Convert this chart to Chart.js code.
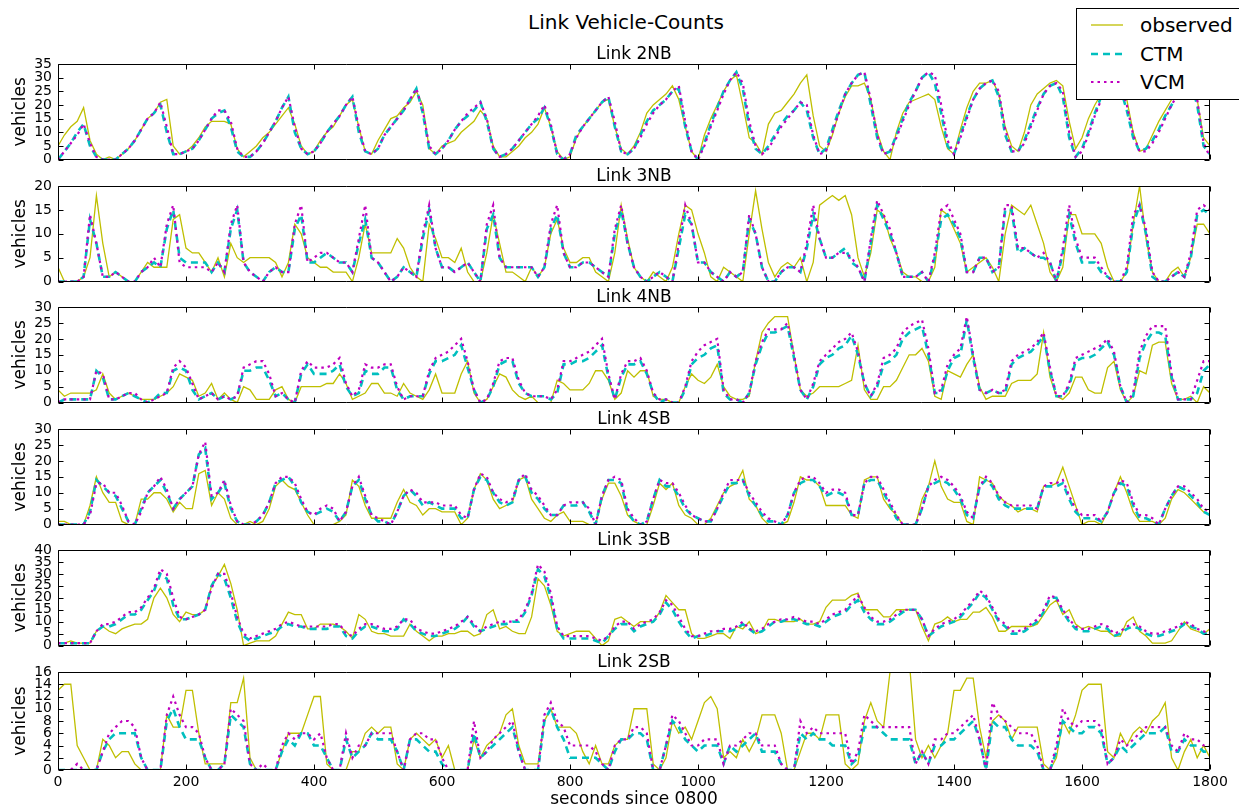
<!DOCTYPE html>
<html>
<head>
<meta charset="utf-8">
<title>Link Vehicle-Counts</title>
<script src="https://cdn.jsdelivr.net/npm/chart.js@4.4.1/dist/chart.umd.min.js"></script>
<style>
  html, body { margin: 0; padding: 0; background: #fff; overflow: hidden; }
  #fig { position: relative; width: 1239px; height: 810px; overflow: hidden; font-family: 'DejaVu Sans', sans-serif; color: #000; }
  #fig canvas { position: absolute; left: 0; }
  #suptitle { position: absolute; left: 0; width: 1252px; top: 10px; text-align: center; font-size: 20px; line-height: 24px; }
  #legend { position: absolute; left: 1076px; top: 8px; width: 180px; height: 92px; border: 1px solid #000; background: #fff; z-index: 5; box-sizing: border-box; }
  .entry { position: absolute; left: 14px; width: 160px; height: 24px; font-size: 20px; line-height: 24px; }
  .entry svg { position: absolute; left: 0; top: 0; }
  .entry span { position: absolute; left: 49px; top: 0; white-space: nowrap; }
</style>
</head>
<body>
<div id="fig">
  <div id="suptitle">Link Vehicle-Counts</div>
  <div id="legend">
    <div class="entry" style="top:4px">
      <svg width="34" height="24"><line x1="0" y1="12" x2="32" y2="12" stroke="#bfbf00" stroke-width="1.3"/></svg>
      <span>observed</span>
    </div>
    <div class="entry" style="top:33px">
      <svg width="34" height="24"><line x1="0" y1="12" x2="32" y2="12" stroke="#00bfbf" stroke-width="2.6" stroke-dasharray="7 5"/></svg>
      <span>CTM</span>
    </div>
    <div class="entry" style="top:61px">
      <svg width="34" height="24"><line x1="0" y1="12" x2="32" y2="12" stroke="#bf00bf" stroke-width="2.2" stroke-dasharray="2.5 4"/></svg>
      <span>VCM</span>
    </div>
  </div>
</div>
<script>
// samples every 10 s, 0..1800
const STEP = 10;

const linkNames = ['2NB', '3NB', '4NB', '4SB', '3SB', '2SB'];
const yMax = [35, 20, 30, 30, 40, 16];
const yStep = [5, 5, 5, 5, 5, 2];
const xMax = 1800;
const xStep = 200;

// Link 2NB
const obs2NB = [5,9,12,14,19,7,2,0,1,0, 2,4,7,11,15,17,21,22,5,2,
  3,5,8,12,14,14,14,13,4,1, 3,5,8,10,13,16,19,13,5,2,
  3,7,10,12,16,20,22,12,3,2, 7,11,15,16,19,21,25,20,4,2,
  5,6,7,10,12,14,18,15,5,1, 1,3,5,8,10,13,19,12,3,0,
  1,8,12,15,18,21,22,12,4,2, 5,10,17,20,22,24,27,22,12,3,
  0,9,15,20,25,29,31,20,8,6, 2,13,17,18,21,24,28,31,16,5,
  3,9,17,23,27,27,28,22,10,3, 0,10,17,21,22,23,24,22,12,4,
  2,11,19,25,28,28,29,24,12,5, 3,10,20,24,26,28,29,27,14,4,
  8,15,20,24,27,29,27,22,10,3, 4,9,14,18,22,25,28,26,22,8,
  5];
const ctm2NB = [0,3,6,10,13,5,1,0,0,0, 2,4,7,11,15,17,20,10,2,2,
  3,4,7,11,15,17,18,12,3,1, 1,3,6,10,14,19,23,10,4,2,
  3,6,10,13,16,20,23,10,3,2, 4,9,12,15,18,22,26,17,4,2,
  4,7,11,14,16,18,21,14,4,1, 2,4,7,10,13,15,19,12,2,0,
  2,9,12,15,18,21,23,12,3,2, 4,9,14,18,20,22,25,26,12,3,
  0,6,13,19,25,29,32,26,12,4, 2,5,9,13,16,18,21,18,8,2,
  4,11,18,24,28,31,32,20,8,2, 3,9,15,21,25,30,32,28,17,5,
  2,9,16,22,26,28,29,23,9,3, 3,7,13,19,24,27,28,23,8,1,
  4,10,17,23,27,29,26,18,8,3, 4,7,11,16,20,24,27,28,20,5,
  2];
const vcm2NB = [0,3,6,9,13,6,1,0,0,0, 2,4,7,11,15,17,21,12,2,2,
  3,4,7,11,15,18,18,14,4,1, 1,3,6,10,14,19,23,12,4,2,
  3,6,10,13,16,20,23,12,3,2, 4,9,12,15,18,22,26,18,5,2,
  4,7,11,14,17,19,21,15,4,1, 2,4,7,10,13,16,20,13,2,0,
  2,8,12,15,18,21,23,14,3,2, 4,8,13,17,20,22,25,27,14,3,
  0,5,12,18,24,29,32,28,14,5, 2,4,8,12,15,18,21,20,9,2,
  3,10,17,24,28,31,32,22,9,2, 3,8,14,20,25,30,32,31,20,7,
  2,8,15,22,26,28,29,25,11,3, 3,6,12,18,24,27,28,25,10,1,
  3,9,16,22,27,29,27,20,9,3, 3,6,10,15,20,24,27,28,22,6,
  1];

// Link 3NB
const obs3NB = [3,0,0,0,1,5,18,8,1,2, 1,0,0,2,4,3,3,3,13,14,
  7,6,6,4,2,5,1,8,5,4, 5,5,5,5,4,1,4,12,10,5,
  4,3,3,2,2,2,0,5,12,6, 6,6,6,9,7,3,1,0,12,9,
  5,5,4,7,2,0,0,6,14,8, 2,2,1,0,3,1,3,10,13,7,
  4,4,5,5,2,1,0,6,16,9, 3,1,0,2,1,0,3,10,16,15,
  10,6,1,0,3,2,1,0,10,19, 11,4,1,3,4,3,5,0,4,16,
  17,18,17,18,14,5,1,6,15,14, 9,6,2,1,1,0,0,3,15,14,
  11,8,2,3,4,5,3,0,10,16, 15,14,16,12,8,2,0,3,14,14,
  10,10,10,8,3,0,0,2,12,20, 9,2,0,0,2,3,1,5,12,12,
  10];
const ctm3NB = [0,0,0,0,1,13,8,1,1,2, 1,0,0,2,3,4,3,11,15,5,
  4,4,4,4,2,4,2,11,15,4, 2,1,0,2,3,2,2,11,14,4,
  4,5,6,5,4,4,2,8,13,5, 4,2,0,1,3,2,1,9,15,7,
  3,3,2,3,4,2,0,11,14,5, 3,3,3,3,3,1,3,11,14,6,
  3,3,4,4,3,2,1,10,15,8, 3,1,0,1,2,1,0,7,14,12,
  4,4,2,1,0,2,1,2,13,10, 3,0,0,2,3,3,2,7,14,9,
  5,5,6,7,4,3,0,8,16,13, 10,6,1,1,1,2,0,5,13,14,
  12,9,2,2,5,5,2,3,15,15, 6,7,6,5,5,4,0,6,14,8,
  4,4,4,2,1,0,0,2,12,16, 10,1,0,0,1,2,1,5,14,15,
  14];
const vcm3NB = [0,0,0,0,1,14,8,1,1,2, 1,0,0,2,3,5,3,12,16,4,
  3,3,3,3,2,4,2,12,16,4, 2,1,0,2,3,2,2,12,16,4,
  5,6,6,5,4,4,2,9,16,5, 4,2,0,1,3,2,1,10,16,7,
  3,3,2,3,4,2,0,12,16,5, 3,3,3,3,3,1,3,12,16,6,
  3,3,4,4,3,2,1,11,16,8, 3,1,0,1,2,1,0,8,16,12,
  4,4,2,1,0,2,1,2,14,10, 3,0,0,2,3,3,2,8,16,9,
  5,5,6,6,5,3,0,9,17,14, 11,6,1,1,1,2,0,6,15,16,
  13,10,2,2,5,5,2,3,16,16, 7,7,6,5,6,4,0,7,16,9,
  5,5,5,3,1,0,0,3,14,16, 11,2,0,0,1,2,1,6,15,16,
  15];

// Link 4NB
const obs4NB = [4,2,3,3,3,3,4,9,3,1, 2,3,2,1,1,1,2,3,5,9,
  8,7,2,3,6,1,3,1,0,5, 4,1,1,1,4,5,1,0,5,5,
  5,5,6,6,9,6,1,2,3,6, 6,3,3,2,6,3,2,1,4,9,
  3,3,3,9,13,3,0,1,5,9, 8,4,2,1,2,0,0,0,7,6,
  4,4,4,6,10,10,7,1,3,10, 8,10,10,2,1,1,0,0,5,9,
  7,6,8,12,5,2,1,1,2,13, 22,25,27,27,27,15,4,2,3,5,
  5,5,5,6,7,18,4,1,1,5, 5,7,11,15,15,17,13,2,1,10,
  9,8,12,15,5,1,2,2,2,6, 7,7,7,9,22,8,2,1,3,8,
  8,4,3,3,11,13,4,0,2,10, 9,18,19,19,6,1,1,2,0,5,
  3];
const ctm4NB = [0,1,1,1,1,1,10,8,1,1, 2,3,2,1,0,1,3,3,10,11,
  10,4,1,2,3,1,2,1,2,10, 10,11,11,7,2,3,1,0,9,12,
  9,9,9,10,12,5,2,3,10,9, 9,11,11,4,1,2,2,2,9,13,
  13,14,15,18,11,4,0,1,5,12, 13,13,6,3,2,2,2,1,3,12,
  12,13,13,14,16,18,8,1,8,12, 12,13,9,3,0,1,0,0,4,12,
  14,15,17,18,3,1,1,0,3,12, 18,22,22,23,24,14,4,1,5,12,
  14,15,17,18,21,15,6,2,5,12, 13,15,20,22,23,24,15,3,3,10,
  14,15,26,14,4,3,4,3,3,12, 14,15,16,18,21,10,2,2,5,13,
  14,14,15,17,19,15,5,0,2,14, 19,22,22,21,8,1,1,1,3,10,
  12];
const vcm4NB = [0,1,1,1,1,1,10,9,1,1, 2,3,3,1,0,1,2,3,11,13,
  11,6,1,2,3,1,2,1,2,11, 12,13,13,9,2,3,1,0,10,13,
  11,11,11,12,14,6,2,4,12,11, 11,12,12,5,1,2,2,2,10,14,
  15,16,18,20,13,4,0,1,6,13, 14,14,7,3,2,2,2,1,4,13,
  13,14,15,16,18,20,9,1,9,13, 13,14,10,3,1,1,0,0,5,13,
  16,18,19,20,4,1,1,0,3,13, 19,23,23,23,25,15,4,1,6,13,
  15,17,19,20,22,16,6,2,6,14, 15,17,22,24,25,26,17,3,4,12,
  15,17,27,15,4,3,4,3,4,13, 15,16,17,19,22,11,2,2,6,14,
  15,16,17,18,20,16,5,0,3,16, 21,24,24,24,9,1,1,1,7,13,
  13];

// Link 4SB
const obs4SB = [1,1,0,0,0,6,15,10,7,7, 1,0,0,8,8,10,10,8,4,7,
  5,5,16,17,6,10,8,2,0,0, 1,0,1,5,12,14,12,11,7,3,
  0,0,0,0,1,3,14,12,6,2, 2,2,2,7,11,7,6,3,5,5,
  4,4,4,0,2,11,16,14,8,5, 6,7,14,15,8,5,2,1,3,4,
  1,1,1,0,0,8,13,13,9,3, 1,0,0,6,13,11,13,6,3,2,
  0,0,2,6,10,12,13,17,8,6, 2,0,0,0,1,7,15,14,14,12,
  6,6,6,6,3,2,14,15,15,8, 5,3,0,0,0,8,12,20,12,8,
  7,7,1,0,15,14,13,9,7,6, 4,5,5,4,12,12,13,18,12,6,
  0,1,1,0,4,10,15,10,4,1, 1,1,0,2,8,11,10,8,6,4,
  3];
const ctm4SB = [0,0,0,0,0,4,14,12,10,9, 5,1,0,5,10,12,14,10,5,8,
  10,12,22,24,8,10,13,5,1,0, 0,1,3,7,13,14,15,12,7,4,
  3,4,5,4,1,4,12,14,8,3, 1,1,0,4,9,11,9,6,7,6,
  5,5,5,2,2,11,15,14,10,7, 6,7,14,15,10,8,5,3,3,6,
  6,6,7,4,0,9,14,14,13,4, 1,0,1,8,14,12,12,9,5,3,
  2,1,1,5,9,13,13,14,9,6, 3,1,1,0,3,10,13,14,14,12,
  9,10,10,9,3,3,13,14,14,10, 6,2,0,0,0,5,12,13,14,13,
  11,8,3,2,12,14,12,8,6,5, 5,5,5,5,12,12,12,13,8,4,
  2,2,2,1,4,10,13,12,6,2, 2,1,0,5,9,12,11,9,7,4,
  3];
const vcm4SB = [0,0,0,0,0,3,13,13,10,10, 6,1,0,4,10,12,15,11,5,8,
  10,12,22,26,9,10,14,6,1,0, 0,1,3,7,13,15,15,13,8,4,
  3,5,6,5,1,4,12,15,9,3, 2,1,0,4,9,11,10,7,7,7,
  6,6,6,3,2,11,16,15,10,8, 7,8,14,16,11,9,6,3,3,6,
  7,7,7,5,0,9,14,15,14,5, 2,0,1,8,14,13,13,10,6,3,
  2,1,1,5,10,14,14,14,10,7, 4,2,1,0,3,10,14,15,15,13,
  10,11,11,10,3,3,13,15,15,11, 7,3,0,0,0,5,12,14,15,14,
  12,9,4,2,12,15,13,9,7,6, 6,6,6,5,12,13,13,14,9,5,
  3,3,3,1,4,10,14,13,7,3, 3,2,0,5,9,12,12,10,8,5,
  4];

// Link 3SB
const obs3SB = [1,1,2,1,1,1,6,8,6,5, 7,8,9,9,11,20,24,20,13,10,
  14,13,13,15,25,29,34,26,15,0, 1,2,2,2,4,9,14,13,13,7,
  7,9,9,9,8,6,3,13,11,6, 5,5,4,4,4,9,6,4,2,4,
  4,5,5,6,6,4,5,13,15,7, 8,6,5,5,12,28,25,17,6,4,
  5,6,6,6,3,0,2,11,12,10, 8,10,10,10,14,21,18,15,15,5,
  3,3,4,5,5,3,8,7,10,5, 6,11,11,10,10,10,11,9,9,10,
  16,19,19,19,21,22,15,15,15,12, 12,15,15,15,15,8,2,9,10,12,
  10,11,11,14,14,16,12,6,6,8, 8,8,8,9,13,17,19,13,15,9,
  7,8,7,6,6,4,4,10,12,6, 4,1,1,1,2,6,10,7,6,5,
  7];
const ctm3SB = [1,1,1,1,1,1,6,8,8,9, 11,13,13,15,19,23,30,28,17,11,
  11,12,13,15,25,30,28,20,10,4, 2,3,4,5,6,8,9,8,8,7,
  7,7,7,8,8,4,3,6,8,8, 7,6,6,7,11,9,6,5,4,4,
  5,6,7,9,12,8,6,7,8,9, 9,10,10,14,21,32,29,20,7,3,
  3,3,3,3,2,1,4,7,9,9, 6,8,9,10,13,18,15,10,6,3,
  4,4,5,6,6,6,7,9,7,5, 6,8,10,10,11,11,10,9,9,8,
  10,12,13,14,17,19,14,11,9,9, 10,12,14,15,15,11,4,6,8,9,
  10,12,15,18,22,20,15,10,8,5, 5,6,8,10,14,20,20,14,10,7,
  6,6,7,8,7,4,5,7,8,7, 5,4,4,5,6,7,9,8,7,5,
  5];
const vcm3SB = [1,1,1,1,1,1,6,9,9,10, 12,14,14,16,20,24,32,30,20,12,
  11,12,13,15,24,30,30,22,12,5, 3,4,5,6,7,9,10,9,8,8,
  8,8,8,9,9,5,4,7,9,9, 8,7,7,8,11,11,7,6,5,5,
  6,7,8,10,12,9,6,8,9,10, 10,10,11,15,22,34,31,22,8,4,
  4,4,4,4,3,2,4,8,10,10, 7,9,10,11,14,19,17,12,7,4,
  4,5,6,6,7,7,8,10,7,6, 7,9,10,11,11,12,11,10,10,9,
  11,13,14,15,18,21,16,12,10,10, 11,13,15,15,15,11,4,7,9,10,
  11,13,16,19,23,21,16,11,9,6, 6,7,9,11,15,21,20,15,11,8,
  7,7,8,9,8,5,6,8,9,8, 6,5,5,6,7,8,10,9,7,6,
  5];

// Link 2SB
const obs2SB = [13,14,14,4,2,0,0,5,4,2, 3,3,1,0,0,0,0,9,7,7,
  13,13,6,1,1,1,1,11,11,15, 2,0,0,0,0,3,6,6,6,9,
  12,12,1,0,0,0,3,3,6,7, 6,7,7,1,0,5,6,5,4,5,
  2,4,0,0,0,5,2,4,5,6, 9,10,4,1,1,1,8,10,7,7,
  7,6,3,1,4,1,1,4,5,5, 10,10,10,1,0,2,8,6,7,5,
  8,11,12,10,2,3,2,5,3,5, 9,9,9,6,0,0,3,6,6,5,
  9,9,9,1,0,1,8,11,8,7, 16,18,18,18,5,2,4,2,4,6,
  13,13,15,15,7,2,8,9,8,5, 7,7,7,7,1,0,2,8,6,9,
  13,14,14,14,3,2,6,4,6,7, 6,8,9,11,2,0,3,5,2,4,
  2];
const ctm2SB = [0,0,0,0,0,0,0,3,5,6, 6,6,6,2,0,0,0,8,10,7,
  5,5,5,2,0,0,1,9,8,7, 1,0,0,0,0,3,5,4,6,6,
  4,4,2,0,0,5,2,3,4,6, 5,5,5,3,0,5,5,4,3,3,
  1,0,0,0,0,6,2,3,4,5, 6,7,3,0,0,0,8,10,7,5,
  2,2,2,2,2,1,0,3,5,5, 6,6,5,0,0,4,8,7,5,4,
  3,4,4,4,1,4,3,4,5,6, 3,3,3,1,0,0,6,5,6,5,
  5,4,4,4,1,2,7,7,7,6, 5,5,5,5,1,3,1,4,4,5,
  5,6,7,8,5,0,8,7,7,5, 4,4,4,3,0,0,3,8,7,6,
  6,7,7,6,1,2,4,3,4,5, 6,6,6,7,3,3,5,4,4,3,
  3];
const vcm2SB = [0,0,0,1,0,0,0,3,6,7, 8,8,7,2,0,0,0,9,12,9,
  7,7,6,2,0,0,1,10,9,8, 1,0,1,0,0,4,6,5,6,6,
  5,6,2,0,0,6,2,4,4,6, 6,6,6,3,0,5,6,6,5,5,
  2,0,0,0,0,8,2,3,5,6, 7,8,3,0,0,0,9,11,8,7,
  4,4,4,4,3,1,0,4,5,5, 7,7,6,0,0,4,9,8,6,4,
  4,5,5,5,1,4,4,5,6,6, 4,4,4,1,0,0,8,6,7,6,
  6,6,6,6,1,3,9,8,7,7, 7,7,7,7,1,3,1,5,5,6,
  6,7,8,9,5,0,11,9,8,7, 6,6,6,4,0,0,4,10,8,7,
  8,8,8,7,1,2,5,4,5,6, 7,7,7,7,4,3,6,5,5,4,
  4];

const seriesByLink = [
  [obs2NB, ctm2NB, vcm2NB],
  [obs3NB, ctm3NB, vcm3NB],
  [obs4NB, ctm4NB, vcm4NB],
  [obs4SB, ctm4SB, vcm4SB],
  [obs3SB, ctm3SB, vcm3SB],
  [obs2SB, ctm2SB, vcm2SB]
];

// layout (page pixels)
const plotTops = [64, 186, 307, 429, 550, 672];
const PLOT_H = 98;
const TITLE_H = 24;
const Y_AXIS_W = 58;
const RIGHT_PAD = 29;
const X_AXIS_H = 40;
const TICK_LEN = 5;

Chart.defaults.font.family = "'DejaVu Sans', sans-serif";
Chart.defaults.color = '#000';

const pts = arr => arr.map((v, i) => ({ x: i * STEP, y: v }));

// matplotlib-style box with inward ticks on all sides, plus the subplot title
const boxPlugin = {
  id: 'box',
  afterDraw(chart, args, opts) {
    const { ctx, chartArea: a } = chart;
    const xs = chart.scales.x, ys = chart.scales.y;
    const L = Math.round(a.left) + 0.5, R = Math.round(a.right) - 0.5;
    const T = Math.round(a.top) + 0.5, B = Math.round(a.bottom) - 0.5;
    ctx.save();
    ctx.strokeStyle = '#000';
    ctx.lineWidth = 1;
    ctx.beginPath();
    ctx.rect(L, T, R - L, B - T);
    for (let v = xs.min; v <= xs.max; v += xs.options.ticks.stepSize) {
      const px = Math.round(xs.getPixelForValue(v)) + 0.5;
      ctx.moveTo(px, B); ctx.lineTo(px, B - TICK_LEN);
      ctx.moveTo(px, T); ctx.lineTo(px, T + TICK_LEN);
    }
    for (let v = ys.min; v <= ys.max; v += ys.options.ticks.stepSize) {
      const py = Math.round(ys.getPixelForValue(v)) + 0.5;
      ctx.moveTo(L, py); ctx.lineTo(L + TICK_LEN, py);
      ctx.moveTo(R, py); ctx.lineTo(R - TICK_LEN, py);
    }
    ctx.stroke();
    ctx.fillStyle = '#000';
    ctx.font = "17px 'DejaVu Sans'";
    ctx.textAlign = 'center';
    ctx.textBaseline = 'alphabetic';
    ctx.fillText(opts.text, (a.left + a.right) / 2, a.top - 5);
    ctx.restore();
  }
};

const fig = document.getElementById('fig');

linkNames.forEach((name, idx) => {
  const [obs, ctm, vcm] = seriesByLink[idx];
  const last = idx === linkNames.length - 1;
  const padBottom = last ? 0 : 12;
  const axisH = last ? X_AXIS_H : 0;

  const canvas = document.createElement('canvas');
  canvas.width = 1239;
  canvas.height = TITLE_H + PLOT_H + padBottom + axisH;
  canvas.style.top = (plotTops[idx] - TITLE_H) + 'px';
  fig.appendChild(canvas);

  new Chart(canvas, {
    type: 'line',
    data: {
      datasets: [
        { label: 'observed', data: pts(obs), borderColor: '#bfbf00', borderWidth: 1.3,
          pointRadius: 0, tension: 0, fill: false, order: 3 },
        { label: 'CTM', data: pts(ctm), borderColor: '#00bfbf', borderWidth: 2.6, borderDash: [7, 5],
          pointRadius: 0, tension: 0, fill: false, order: 2 },
        { label: 'VCM', data: pts(vcm), borderColor: '#bf00bf', borderWidth: 2.2, borderDash: [2.5, 4],
          pointRadius: 0, tension: 0, fill: false, order: 1 }
      ]
    },
    options: {
      responsive: false,
      animation: false,
      devicePixelRatio: 1,
      events: [],
      layout: { padding: { top: TITLE_H, right: RIGHT_PAD, bottom: padBottom, left: 0 } },
      plugins: {
        legend: { display: false },
        tooltip: { enabled: false },
        box: { text: 'Link ' + name }
      },
      scales: {
        x: {
          type: 'linear',
          min: 0,
          max: xMax,
          display: last,
          afterFit: s => { if (last) s.height = X_AXIS_H; },
          grid: { display: false, drawTicks: false },
          border: { display: false },
          ticks: { stepSize: xStep, autoSkip: false, maxRotation: 0, padding: 4,
                   font: { size: 14 }, callback: v => String(v) },
          title: { display: true, text: 'seconds since 0800', font: { size: 17 },
                   padding: { top: 0, bottom: 0 } }
        },
        y: {
          min: 0,
          max: yMax[idx],
          afterFit: s => { s.width = Y_AXIS_W; },
          grid: { display: false, drawTicks: false },
          border: { display: false },
          ticks: { stepSize: yStep[idx], autoSkip: false, padding: 6,
                   font: { size: 14 }, callback: v => String(v) },
          title: { display: true, text: 'vehicles', font: { size: 17 },
                   padding: { top: 10, bottom: 0 } }
        }
      }
    },
    plugins: [boxPlugin]
  });
});
</script>
</body>
</html>
